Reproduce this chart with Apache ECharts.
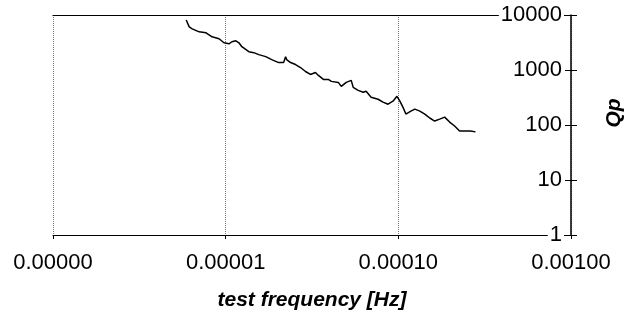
<!DOCTYPE html>
<html>
<head>
    <meta charset="utf-8">
    <title>Qp vs test frequency</title>
    <script src="https://cdn.jsdelivr.net/npm/echarts@6/dist/echarts.min.js"></script>
</head>
<body style="margin:0;background:#fff;">
    <div id="main" style="width: 633px;height:316px;"></div>
    <script type="text/javascript">
        var myChart = echarts.init(document.getElementById('main'));

        // test frequency [Hz]
        var freq = [
            5.91e-6, 6.15e-6, 6.40e-6, 7.02e-6, 7.70e-6, 8.34e-6, 9.15e-6, 9.78e-6,
            1.045e-5, 1.087e-5, 1.146e-5, 1.193e-5, 1.241e-5, 1.362e-5, 1.455e-5, 1.555e-5,
            1.706e-5, 1.848e-5, 2.027e-5, 2.166e-5, 2.224e-5, 2.254e-5, 2.376e-5, 2.539e-5,
            2.713e-5, 2.899e-5, 3.098e-5, 3.311e-5, 3.445e-5, 3.681e-5, 3.933e-5, 4.093e-5,
            4.491e-5, 4.673e-5, 4.992e-5, 5.335e-5, 5.478e-5, 5.853e-5, 6.255e-5, 6.509e-5,
            6.955e-5, 7.632e-5, 8.155e-5, 8.713e-5, 9.309e-5, 9.815e-5, 1.021e-4, 1.063e-4,
            1.106e-4, 1.182e-4, 1.246e-4, 1.332e-4, 1.423e-4, 1.520e-4, 1.624e-4, 1.736e-4,
            1.855e-4, 1.982e-4, 2.118e-4, 2.263e-4, 2.418e-4, 2.618e-4, 2.798e-4
        ];
        // Qp
        var qp = [
            8128, 6081, 5594, 4940, 4742, 4015, 3697, 3129,
            3000, 3263, 3402, 3129, 2651, 2154, 2066, 1902,
            1750, 1545, 1365, 1365, 1750, 1545, 1365, 1256,
            1109, 939, 830, 901, 796, 674, 674, 621,
            595, 504, 595, 647, 484, 427, 393, 410,
            320, 294, 260, 239, 271, 333, 271, 211,
            158, 179, 194, 179, 158, 134, 118, 128,
            139, 113, 96, 78, 78, 78, 75
        ];
        var xTicks = [1e-6, 1e-5, 1e-4, 1e-3];
        var yTicks = [1, 10, 100, 1000, 10000];

        var points = freq.map(function (f, i) { return [f, qp[i]]; });
        var font = 'Liberation Sans, Arial, sans-serif';

        var option = {
            backgroundColor: '#fff',
            animation: false,
            grid: { left: 53, right: 59, top: 15, bottom: 79 },
            xAxis: [
                {
                    type: 'log',
                    logBase: 10,
                    min: xTicks[0],
                    max: xTicks[xTicks.length - 1],
                    name: 'test frequency [Hz]',
                    nameLocation: 'middle',
                    nameGap: 55,
                    nameTextStyle: { fontFamily: font, fontSize: 21, fontWeight: 'bold', fontStyle: 'italic', color: '#000' },
                    axisLine: { lineStyle: { color: '#000', width: 1.2 } },
                    axisTick: { show: true, length: 4, lineStyle: { color: '#000' } },
                    minorTick: { show: false },
                    axisLabel: {
                        margin: 17,
                        fontFamily: font,
                        fontSize: 22,
                        color: '#000',
                        formatter: function (v) { return v.toFixed(5); }
                    },
                    splitLine: { show: true, lineStyle: { color: '#777', type: 'dotted', width: 1 } }
                },
                {
                    // top frame line
                    type: 'log',
                    position: 'top',
                    min: xTicks[0],
                    max: xTicks[xTicks.length - 1],
                    axisLine: { show: true, lineStyle: { color: '#000', width: 1.2 } },
                    axisTick: { show: false },
                    axisLabel: { show: false },
                    splitLine: { show: false }
                }
            ],
            yAxis: [
                {
                    type: 'log',
                    logBase: 10,
                    position: 'right',
                    min: yTicks[0],
                    max: yTicks[yTicks.length - 1],
                    z: 5,
                    name: 'Qp',
                    nameLocation: 'middle',
                    nameRotate: 90,
                    nameGap: 33,
                    nameTextStyle: { fontFamily: font, fontSize: 21, fontWeight: 'bold', fontStyle: 'italic', color: '#000', padding: [0, 0, 0, 24] },
                    axisLine: { show: true, lineStyle: { color: '#000', width: 1.5 } },
                    axisTick: { show: true, length: 6, lineStyle: { color: '#000' } },
                    axisLabel: {
                        inside: true,
                        margin: 7,
                        fontFamily: font,
                        fontSize: 22,
                        color: '#000',
                        backgroundColor: '#fff',
                        padding: [0, 2, 0, 2],
                        formatter: function (v) { return String(Math.round(v)); }
                    },
                    splitLine: { show: false }
                },
                {
                    // inner half of the crossing ticks
                    type: 'log',
                    position: 'right',
                    min: yTicks[0],
                    max: yTicks[yTicks.length - 1],
                    axisLine: { show: false },
                    axisTick: { show: true, inside: true, length: 6, lineStyle: { color: '#000' } },
                    axisLabel: { show: false },
                    splitLine: { show: false }
                }
            ],
            series: [
                {
                    type: 'line',
                    data: points,
                    showSymbol: false,
                    symbol: 'none',
                    lineStyle: { color: '#000', width: 1.5 },
                    z: 3
                }
            ]
        };
        myChart.setOption(option);
    </script>
</body>
</html>
